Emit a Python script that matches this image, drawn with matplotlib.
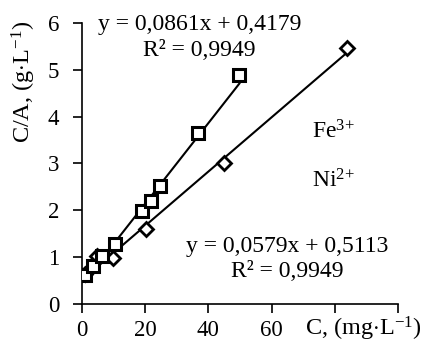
import matplotlib
matplotlib.use('Agg')
import numpy as np
import matplotlib.pyplot as plt

plt.rcParams['font.family'] = ['Liberation Serif', 'DejaVu Serif']
plt.rcParams['mathtext.fontset'] = 'custom'
plt.rcParams['mathtext.rm'] = 'Liberation Serif'
plt.rcParams['mathtext.it'] = 'Liberation Serif:italic'

# data
fe_x = [1.0, 3.6, 6.2, 10.4, 18.9, 22.0, 24.7, 36.8, 49.8]
fe_y = [0.62, 0.82, 1.02, 1.28, 1.98, 2.2, 2.52, 3.65, 4.88]
ni_x = [1.0, 4.8, 9.9, 20.2, 45.0, 83.8]
ni_y = [0.63, 1.02, 0.98, 1.59, 3.0, 5.47]

# trendline coefficients as printed on the chart
fe_fit = (0.0861, 0.4179)
ni_fit = (0.0579, 0.5113)

xticks = [0, 20, 40, 60, 80, 100]
xticklabels = ['0', '20', '40', '60', '', '']
yticks = [0, 1, 2, 3, 4, 5, 6]

fig = plt.figure(figsize=(4.29, 3.47), dpi=100)
ax = fig.add_axes([0.191, 0.124, 0.737, 0.810])

# trendlines over each series' x range
for xs, (k, b) in [(ni_x, ni_fit), (fe_x, fe_fit)]:
    xx = np.array([min(xs), max(xs)])
    ax.plot(xx, k*xx + b, color='black', lw=1.5, zorder=2)

ax.plot(ni_x, ni_y, ls='none', marker='D', ms=7, mfc='white', mec='black', mew=2.0, zorder=3)
ax.plot(fe_x, fe_y, ls='none', marker='s', ms=9, mfc='white', mec='black', mew=2.2, zorder=4)

ax.set_xlim(0, 100)
ax.set_ylim(0, 6)
ax.set_xticks(xticks)
ax.set_xticklabels(xticklabels)
ax.set_yticks(yticks)
for s in ['top', 'right']:
    ax.spines[s].set_visible(False)
for s in ['left', 'bottom']:
    ax.spines[s].set_linewidth(1.2)
ax.tick_params(direction='out', length=6.5, width=1.2, labelsize=16.5)
ax.tick_params(axis='x', pad=5)
ax.tick_params(axis='y', pad=10)

# x axis title sits where the 80/100 labels would be
ax.text(89, -0.23, r'C, (mg$\cdot$L$^{\mathregular{-1}}$)', fontsize=17.5, ha='center', va='top')
fig.text(0.055, 0.764, r'C/A, (g$\cdot$L$^{\mathregular{-1}}$)', fontsize=17.5, rotation=90,
         ha='center', va='center')

ax.text(37.2, 5.96, 'y = 0,0861x + 0,4179', fontsize=17, ha='center', va='center')
ax.text(37.0, 5.42, 'R² = 0,9949', fontsize=17, ha='center', va='center')
ax.text(65.0, 1.23, 'y = 0,0579x + 0,5113', fontsize=17, ha='center', va='center')
ax.text(65.0, 0.69, 'R² = 0,9949', fontsize=17, ha='center', va='center')
ax.text(72.8, 3.68, r'$\mathregular{Fe^{3{+}}}$', fontsize=17, ha='left', va='center')
ax.text(72.8, 2.62, r'$\mathregular{Ni^{2{+}}}$', fontsize=17, ha='left', va='center')

plt.savefig('out.png', dpi=100)
